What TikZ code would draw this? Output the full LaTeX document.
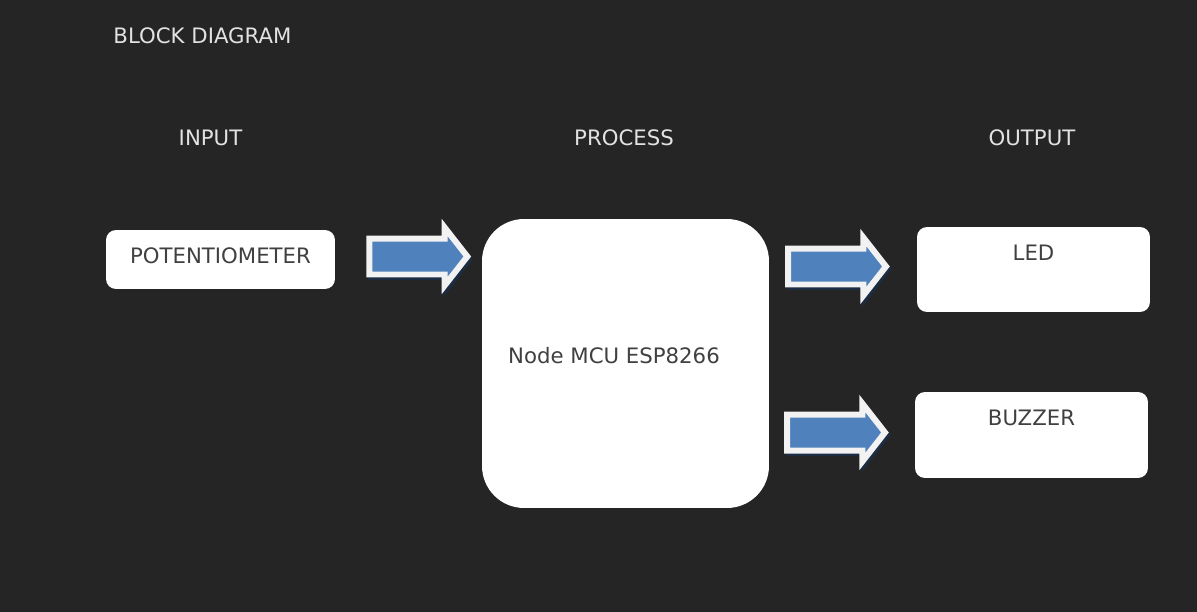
\documentclass[tikz,border=0pt]{standalone}
\usepackage{fontspec}
\setmainfont{DejaVu Sans}
\usetikzlibrary{positioning, shapes.arrows}
\definecolor{bgdark}{HTML}{252525}
\definecolor{boxtext}{HTML}{404040}
\definecolor{headtext}{HTML}{E2E2E2}
\definecolor{flowblue}{HTML}{4F81BD}
\definecolor{flowshade}{HTML}{1C2C42}

\begin{document}
\begin{tikzpicture}[
  x=0.02cm, y=-0.02cm,
  heading/.style={text=headtext, font=\fontsize{12.1}{14}\selectfont, inner sep=0pt},
  block/.style={rectangle, fill=white, rounded corners=0.2cm,
                minimum width=4.66cm, minimum height=1.7cm, inner sep=0pt},
  blocktext/.style={text=boxtext, font=\fontsize{12.1}{14}\selectfont, inner sep=0pt},
  blocklabel/.style={blocktext, anchor=north, yshift=-0.36cm},
  flow/.style={single arrow, single arrow head extend=0.22cm,
               single arrow tip angle=104, minimum height=1.96cm,
               minimum width=0pt, inner xsep=0pt, inner ysep=0.3cm,
               fill=flowblue, draw=white!95!black, line width=0.12cm,
               line join=miter, anchor=tail,
               preaction={draw=flowshade, fill=flowshade, line width=0.12cm,
                          transform canvas={xshift=0.04cm, yshift=-0.05cm}}}
]

% background
\fill[bgdark] (0,0) rectangle (1197,612);

% headings
\node[heading] (title) at (202.5,35.5) {BLOCK DIAGRAM};
\node[heading] (hin)   at (210.5,137.5) {INPUT};
\node[heading] (hproc) at (624,137.5)   {PROCESS};
\node[heading] (hout)  at (1032,137.5)  {OUTPUT};

% blocks
\node[block, minimum width=4.58cm, minimum height=1.18cm,
      label={[blocklabel]north:POTENTIOMETER}] (pot) at (220.5,259.5) {};
\node[block, minimum width=5.74cm, minimum height=5.78cm, rounded corners=0.84cm,
      label={[blocktext, xshift=-0.23cm, yshift=0.15cm]center:Node MCU ESP8266}]
      (mcu) at (625.5,363.5) {};
\node[block, label={[blocklabel]north:LED}] (led) at (1033.5,269.5) {};
\node[block, minimum height=1.72cm, label={[blocklabel]north:BUZZER}] (buz) at (1031.5,435) {};

% block arrows
\node[flow, right=0.62cm of pot, yshift=0.06cm] (arrin) {};
\node[flow] (arrled) at (785,266.5) {};
\node[flow] (arrbuz) at (784,432.5) {};

\end{tikzpicture}
\end{document}
